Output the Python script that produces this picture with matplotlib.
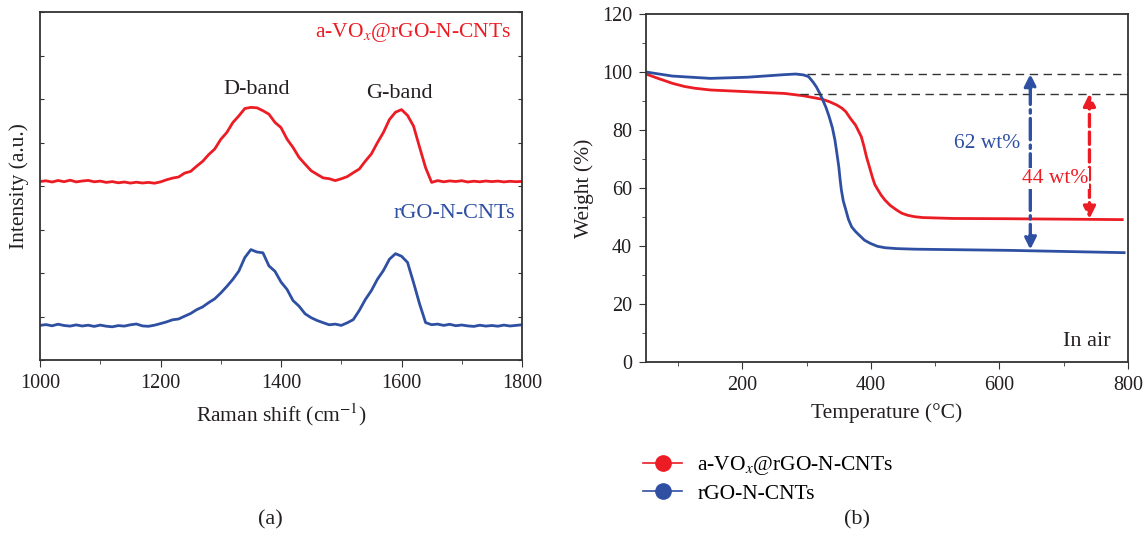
import matplotlib
matplotlib.use("Agg")
import matplotlib.pyplot as plt
from matplotlib.lines import Line2D
from matplotlib.ticker import MultipleLocator
import numpy as np

plt.rcParams['font.family'] = ['Liberation Serif', 'DejaVu Serif']
plt.rcParams['mathtext.fontset'] = 'stix'
plt.rcParams['font.size'] = 14

RED = '#ec1c24'
BLUE = '#2f4fa2'
SPINE = '#333333'
INK = '#231f20'

# (a) Raman spectra, every 10 cm-1
shift = list(range(1000, 1810, 10))
raman_vox = [178.5, 179.2, 178.0, 179.5, 178.3, 179.8, 178.1, 179.0, 179.6, 178.2,
             178.9, 177.6, 178.4, 177.2, 178.0, 176.9, 177.8, 177.0, 177.6, 176.8,
             178.1, 180.2, 181.9, 183.0, 186.9, 188.6, 193.8, 198.7, 205.4, 211.0,
             220.6, 227.5, 237.4, 244.1, 251.5, 252.6, 252.2, 249.3, 245.8, 237.6,
             232.4, 220.9, 212.5, 202.6, 195.8, 189.3, 185.6, 182.1, 181.3, 179.4,
             181.2, 183.4, 187.3, 191.0, 198.9, 206.1, 217.3, 227.6, 240.5, 247.8,
             250.4, 244.6, 233.9, 212.8, 192.3, 177.6, 179.4, 178.2, 179.1, 178.5,
             179.3, 178.0, 178.8, 178.2, 179.0, 178.4, 178.9, 178.1, 178.7, 178.3,
             178.6]
raman_rgo = [34.6, 35.4, 34.2, 35.8, 34.5, 33.9, 35.1, 34.0, 34.8, 33.6,
             34.9, 33.8, 33.2, 34.4, 33.9, 35.2, 36.0, 34.1, 33.7, 34.8,
             36.4, 38.1, 40.2, 41.0, 43.8, 46.5, 50.3, 53.1, 57.4, 61.2,
             67.0, 73.5, 80.6, 88.9, 102.5, 110.4, 108.0, 107.2, 94.1, 88.7,
             78.0, 70.6, 59.4, 53.8, 46.2, 42.3, 39.5, 37.3, 35.2, 35.9,
             34.6, 37.2, 40.4, 49.6, 60.5, 69.4, 80.7, 89.5, 100.8, 106.3,
             103.8, 97.6, 77.4, 56.1, 37.4, 35.3, 35.9, 34.6, 35.7, 34.3,
             35.0, 34.1, 33.6, 34.8, 33.9, 34.5, 33.8, 34.9, 34.0, 34.6,
             35.2]

# (b) TGA curves in air
temp_vox = [50, 70, 91, 110, 126, 150, 208, 266, 295, 324, 335, 347, 355, 361,
            368, 376, 385, 389, 393, 398, 402, 406, 411, 416, 422, 430, 440, 448,
            457, 468, 481, 527, 614, 791]
weight_vox = [99.3, 97.7, 96.1, 95.0, 94.4, 93.8, 93.2, 92.6, 91.8, 90.6, 89.8,
              88.6, 87.5, 86.3, 84.0, 81.7, 77.7, 74.5, 70.8, 67.0, 63.9, 61.2,
              59.3, 57.5, 55.8, 54.0, 52.4, 51.3, 50.6, 50.1, 49.8, 49.5, 49.4, 49.1]
temp_rgo = [50, 91, 150, 208, 266, 283, 295, 303, 310, 315, 320, 324, 330, 335,
            340, 344, 347, 350, 352, 354, 357, 361, 365, 370, 376, 382, 390, 399,
            410, 422, 440, 469, 614, 794]
weight_rgo = [100.0, 98.6, 97.8, 98.2, 99.1, 99.3, 99.0, 98.4, 96.5, 94.9, 92.8,
              90.9, 87.8, 84.6, 80.8, 76.5, 72.0, 67.3, 63.0, 59.3, 55.5, 52.4,
              49.2, 46.6, 45.0, 43.7, 42.0, 40.9, 39.9, 39.4, 39.1, 38.9, 38.5, 37.7]

level_rgo = 99.3
level_vox = 92.5
loss_rgo_at = 648
loss_vox_at = 740

W, H = 1146, 545
fig = plt.figure(figsize=(W / 100, H / 100), dpi=100)
ax1 = fig.add_axes([40 / W, 1 - 360 / H, 482 / W, 348 / H])
ax2 = fig.add_axes([646 / W, 1 - 362 / H, 482 / W, 348 / H])

for ax in (ax1, ax2):
    for s in ax.spines.values():
        s.set_color(SPINE)
        s.set_linewidth(1.3)
    ax.tick_params(which='both', color=SPINE, labelcolor=INK, labelsize=14.5)

# ---- (a) ----
ax1.plot(shift, raman_vox, color=RED, lw=2)
ax1.plot(shift, raman_rgo, color=BLUE, lw=2)
ax1.set_xlim(1000, 1800)
ax1.set_ylim(0, 348)
ax1.set_xticks([1000, 1200, 1400, 1600, 1800])
ax1.xaxis.set_minor_locator(MultipleLocator(100))
ax1.set_yticks(np.linspace(0, 348, 9))
ax1.tick_params(axis='y', which='both', direction='in', length=3, labelleft=False,
                right=True)
ax1.tick_params(axis='x', which='major', direction='out', length=5, pad=5)
ax1.tick_params(axis='x', which='minor', direction='out', length=3)
ax1.set_xlabel('Raman shift (cm$^{-1}$)', fontsize=15.5, labelpad=6, color=INK)
ax1.set_ylabel('Intensity (a.u.)', fontsize=15.5, labelpad=8, color=INK)
ax1.text(1619, 327, 'a-VO$_x$@rGO-N-CNTs', color=RED, ha='center', va='center', fontsize=15.5)
ax1.text(1360, 270, 'D-band', color=INK, ha='center', va='center', fontsize=16)
ax1.text(1597, 267, 'G-band', color=INK, ha='center', va='center', fontsize=16)
ax1.text(1687, 147, 'rGO-N-CNTs', color=BLUE, ha='center', va='center', fontsize=16)

# ---- (b) ----
ax2.plot(temp_vox, weight_vox, color=RED, lw=2)
ax2.plot(temp_rgo, weight_rgo, color=BLUE, lw=2)
ax2.set_xlim(50, 800)
ax2.set_ylim(0, 120)
ax2.set_xticks([200, 400, 600, 800])
ax2.xaxis.set_minor_locator(MultipleLocator(100))
ax2.set_yticks(range(0, 121, 20))
ax2.yaxis.set_minor_locator(MultipleLocator(10))
ax2.tick_params(which='major', direction='out', length=5, pad=5)
ax2.tick_params(which='minor', direction='out', length=3)
ax2.set_xlabel('Temperature (°C)', fontsize=15.5, labelpad=6, color=INK)
ax2.set_ylabel('Weight (%)', fontsize=15.5, labelpad=6, color=INK)

ax2.plot([300, 800], [level_rgo, level_rgo], color='#333333', lw=1, ls=(0, (6, 4)))
ax2.plot([289, 800], [level_vox, level_vox], color='#333333', lw=1, ls=(0, (6, 4)))

ax2.annotate('', xy=(loss_rgo_at, level_rgo), xytext=(loss_rgo_at, 38.8),
             arrowprops=dict(arrowstyle='<|-|>', color=BLUE, lw=2.4, ls='-.',
                             mutation_scale=18, shrinkA=0, shrinkB=0))
ax2.annotate('', xy=(loss_vox_at, level_vox), xytext=(loss_vox_at, 49.4),
             arrowprops=dict(arrowstyle='<|-|>', color=RED, lw=2.4, ls='--',
                             mutation_scale=18, shrinkA=0, shrinkB=0))
ax2.text(581, 75.4, '62 wt%', color=BLUE, ha='center', va='center', fontsize=15.5)
ax2.text(687, 63.3, '44 wt%', color=RED, ha='center', va='center', fontsize=15.5,
         bbox=dict(facecolor='white', edgecolor='none', pad=0.5))
ax2.text(736, 7.0, 'In air', color=INK, ha='center', va='center', fontsize=16)

handles = [Line2D([], [], color=RED, lw=1.2, marker='o', ms=11),
           Line2D([], [], color=BLUE, lw=1.2, marker='o', ms=11)]
fig.legend(handles, ['a-VO$_x$@rGO-N-CNTs', 'rGO-N-CNTs'], loc='upper left',
           bbox_to_anchor=(624 / W, 1 - 435 / H), frameon=False, fontsize=15.5,
           handlelength=1.8, handletextpad=0.7, labelspacing=0.3)

fig.text(270 / W, 1 - 520 / H, '(a)', ha='center', va='center', fontsize=16, color=INK)
fig.text(857 / W, 1 - 520 / H, '(b)', ha='center', va='center', fontsize=16, color=INK)

fig.savefig('out.png', dpi=100)
